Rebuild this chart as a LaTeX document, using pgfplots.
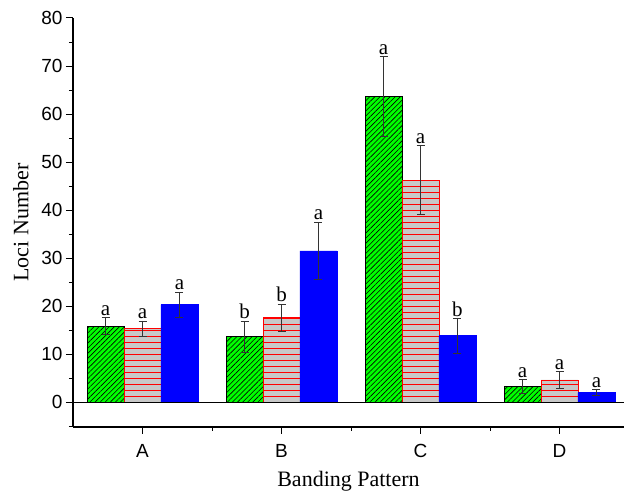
\documentclass[border=0pt]{standalone}
\usepackage{fontspec}
\setmainfont{Liberation Serif}
\newfontfamily\sans{Liberation Sans}
\usepackage{pgfplots}
\pgfplotsset{compat=1.18}
\usetikzlibrary{patterns.meta}

\definecolor{origgreen}{RGB}{0,255,0}
\definecolor{origred}{RGB}{255,0,0}
\definecolor{origgray}{RGB}{200,200,200}
\definecolor{origblue}{RGB}{0,0,255}

\begin{document}
\begin{tikzpicture}
\begin{axis}[
    at={(0,0)}, anchor=south west,
    scale only axis,
    width=551pt, height=409pt,
    xmin=0.5, xmax=4.464,
    ymin=-5.2, ymax=80,
    axis x line*=bottom, axis y line*=left,
    axis line style={-, line width=1.2pt},
    tick align=outside,
    major tick length=7pt, minor tick length=4pt,
    tick style={black, line width=1pt},
    xtick={1,2,3,4},
    xticklabels={A,B,C,D},
    minor xtick={1.5,2.5,3.5},
    ytick={0,10,...,80},
    minor ytick={-5,5,15,25,35,45,55,65,75},
    /pgf/number format/assume math mode=true,
    ticklabel style={font=\sans\fontsize{19}{19}\selectfont},
    xticklabel style={yshift=-7pt},
    xlabel={Banding Pattern},
    ylabel={Loci Number},
    label style={font=\fontsize{22}{22}\selectfont},
    xlabel style={yshift=-6pt},
    ylabel style={yshift=6pt},
    bar width=0.266,
    clip=false,
]
% green, diagonal hatch (left bar of each group)
\addplot[ybar, bar shift=0, draw=black, line width=0.9pt, fill=origgreen,
    postaction={pattern color=black, pattern={Lines[angle=45, distance=3.6pt, line width=0.6pt]}},
    error bars/.cd, y dir=both, y explicit,
    error bar style={black!80, line width=0.8pt},
    error mark options={rotate=90, mark size=4pt, black!80, line width=0.8pt}]
coordinates {(0.734,15.8) +- (0,1.8) (1.734,13.6) +- (0,3.2) (2.734,63.6) +- (0,8.3) (3.734,3.2) +- (0,1.5)};
% gray with red horizontal lines (middle bar)
\addplot[ybar, bar shift=0, draw=origred, dashed, line width=0.9pt, fill=origgray,
    postaction={solid, pattern color=origred, pattern={Lines[angle=0, distance=6pt, line width=0.9pt]}},
    error bars/.cd, y dir=both, y explicit,
    error bar style={black!80, solid, line width=0.8pt},
    error mark options={rotate=90, mark size=4pt, black!80, solid, line width=0.8pt}]
coordinates {(1,15.3) +- (0,1.6) (2,17.6) +- (0,2.8) (3,46.2) +- (0,7.2) (4,4.6) +- (0,1.7)};
% blue solid (right bar)
\addplot[ybar, bar shift=0, draw=origblue, line width=0.6pt, fill=origblue,
    error bars/.cd, y dir=both, y explicit,
    error bar style={black!80, line width=0.8pt},
    error mark options={rotate=90, mark size=4pt, black!80, line width=0.8pt}]
coordinates {(1.266,20.3) +- (0,2.6) (2.266,31.5) +- (0,6.0) (3.266,13.8) +- (0,3.6) (4.266,1.95) +- (0,0.6)};
% significance letters at the top of each error bar
\addplot[draw=none, point meta=explicit symbolic, nodes near coords,
    every node near coord/.append style={anchor=south, inner sep=2pt,
        font=\fontsize{21}{21}\selectfont}]
coordinates {
    (0.734,17.6) [a] (1,16.9) [a] (1.266,22.9) [a]
    (1.734,16.8) [b] (2,20.4) [b] (2.266,37.5) [a]
    (2.734,71.9) [a] (3,53.4) [a] (3.266,17.4) [b]
    (3.734,4.7) [a] (4,6.3) [a] (4.266,2.55) [a]
};
\draw[black, line width=1pt] (axis cs:0.5,0) -- (axis cs:4.464,0);
\end{axis}
\pgfresetboundingbox
\path[use as bounding box] (-73pt,-65pt) rectangle (552pt,427pt);
\end{tikzpicture}
\end{document}
